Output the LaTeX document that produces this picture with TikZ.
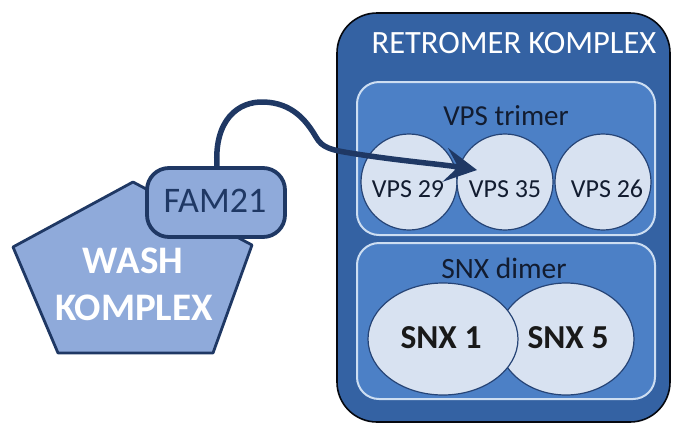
\documentclass[tikz,border=0pt]{standalone}
\usepackage{fontspec}
\setmainfont{Carlito}
\usetikzlibrary{arrows.meta,shapes.geometric}
\definecolor{outerfill}{RGB}{52,98,163}
\definecolor{innerfill}{RGB}{76,128,198}
\definecolor{innerline}{RGB}{205,222,242}
\definecolor{lightfill}{RGB}{216,226,241}
\definecolor{circline}{RGB}{38,68,118}
\definecolor{pentfill}{RGB}{143,170,218}
\definecolor{navy}{RGB}{31,56,100}
\definecolor{textdark}{RGB}{18,28,48}
\tikzset{
  outerbox/.style={draw=black!85!navy, line width=1.6pt, fill=outerfill, rounded corners=40pt, inner sep=0pt},
  groupbox/.style={draw=innerline, line width=2pt, fill=innerfill, rounded corners=22pt, inner sep=0pt},
  vpscirc/.style={circle, draw=circline, line width=1.2pt, fill=lightfill, minimum size=96pt, inner sep=0pt},
  snxell/.style={ellipse, draw=circline, line width=1.2pt, fill=lightfill, inner sep=0pt},
  pent/.style={draw=navy, line width=2.8pt, fill=pentfill, line join=round},
  fambox/.style={draw=navy, line width=3.8pt, fill=pentfill, rounded corners=22pt, minimum width=138pt, minimum height=69pt, inner sep=0pt},
  conn/.style={draw=navy, line width=5.5pt, line cap=round, -{Stealth[length=32pt,width=34pt,inset=13pt]}},
  lbl/.style={anchor=base, inner sep=0pt, text=textdark},
}
\begin{document}
\begin{tikzpicture}[x=1pt,y=-1pt]
\useasboundingbox (0,0) rectangle (673,424);
% Retromer complex
\node[outerbox, minimum width=333pt, minimum height=409pt] (retro) at (503.5,217.5) {};
\node[lbl, text=white, font=\fontsize{32.5}{32}\selectfont] (rtitle) at (514,53) {RETROMER KOMPLEX};
\node[groupbox, minimum width=298pt, minimum height=153pt] (trimer) at (506,158.5) {};
\node[lbl, font=\fontsize{29}{29}\selectfont] (trimerlbl) at (506,125) {VPS trimer};
\node[vpscirc] (vps29) at (409,182) {};
\node[vpscirc] (vps35) at (505,182) {};
\node[vpscirc] (vps26) at (603,182) {};
\node[lbl, font=\fontsize{26}{26}\selectfont] (t29) at (408,197) {VPS 29};
\node[lbl, font=\fontsize{26}{26}\selectfont] (t35) at (505,197) {VPS 35};
\node[lbl, font=\fontsize{26}{26}\selectfont] (t26) at (607,197) {VPS 26};
\node[groupbox, minimum width=298pt, minimum height=156pt] (dimer) at (506,321) {};
\node[lbl, font=\fontsize{29.5}{29}\selectfont] (dimerlbl) at (504,278) {SNX dimer};
\node[snxell, minimum width=136pt, minimum height=112pt] (snx5) at (566,339) {};
\node[snxell, minimum width=150pt, minimum height=112pt] (snx1) at (443,339) {};
\node[lbl, text=black!90, font=\bfseries\fontsize{33.5}{33}\selectfont] (t1) at (441,348) {SNX 1};
\node[lbl, text=black!90, font=\bfseries\fontsize{33.5}{33}\selectfont] (t5) at (568,348) {SNX 5};
% WASH complex
\draw[pent] (133,182) -- (252,245) -- (213,353) -- (58,353) -- (13,247) -- cycle;
\node[lbl, text=white, font=\bfseries\fontsize{39}{39}\selectfont] (wash) at (133,273) {WASH};
\node[lbl, text=white, font=\bfseries\fontsize{39}{39}\selectfont] (komplex) at (134,320) {KOMPLEX};
\node[fambox] (fam) at (216,202.5) {};
\node[lbl, text=navy, font=\fontsize{36}{36}\selectfont] (famlbl) at (215,212) {FAM21};
% connector
\coordinate (tip) at (477,170);
\draw[conn] ([xshift=1pt]fam.north) .. controls (214,120) and (238,101) .. (264,102)
  .. controls (292,103) and (306,120) .. (316,137)
  .. controls (322,148) and (332,150) .. (350,153)
  .. controls (400,161) and (440,164) .. (tip);
\end{tikzpicture}
\end{document}
